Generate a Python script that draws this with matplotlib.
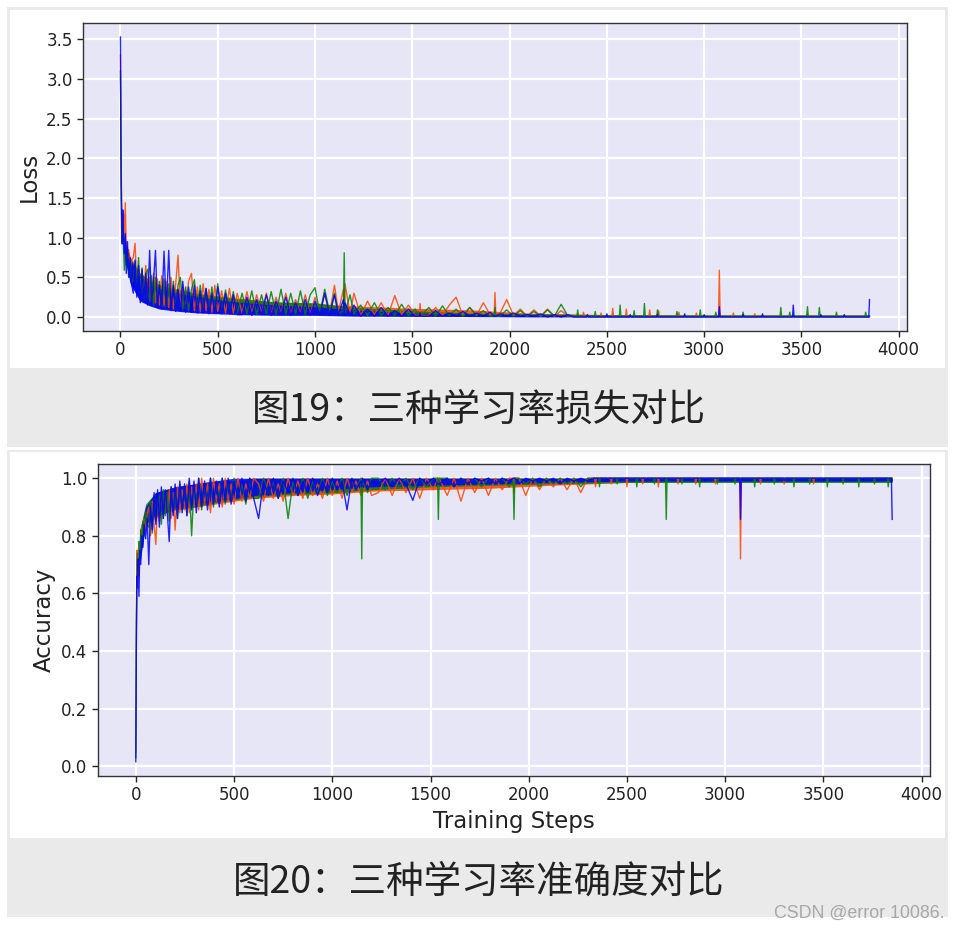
import matplotlib
matplotlib.use("Agg")
import matplotlib.pyplot as plt
from matplotlib.patches import Rectangle

# ---------------- data ----------------
# training steps shared by all six series up to step 2300
steps = [0, 3, 6, 9, 12, 16, 20, 25, 30, 36, 42, 50, 58,
         66, 75, 84, 93, 102, 111, 120, 130, 140, 150, 160, 170, 180, 190, 200, 212, 224, 236, 248, 260,
         272, 284, 296, 308, 320, 335, 350, 365, 380, 395, 410, 425, 440, 455, 470, 485, 500, 520, 540,
         560, 580, 600,
         625, 650, 675, 700, 725, 750, 775, 800, 825, 850, 875, 900, 925, 950, 975, 1000, 1025, 1050,
         1075, 1100, 1120, 1146, 1150, 1154, 1180, 1200,
         1235, 1270, 1305, 1340, 1375, 1410, 1445, 1480, 1515, 1536, 1540, 1544,
         1585, 1620, 1655, 1690, 1725, 1760, 1795, 1830, 1865, 1900, 1921, 1925, 1929,
         1950, 1985, 2020, 2055, 2090, 2125, 2160, 2195, 2230, 2265, 2300]

loss_orange = [3.30, 2.10, 1.45, 1.20, 1.05, 1.30, 0.95, 1.44, 0.80, 0.70, 0.85, 0.60, 0.72,
               0.75, 0.93, 0.40, 0.62, 0.30, 0.58, 0.25, 0.65, 0.22, 0.50,
               0.20, 0.55, 0.18, 0.48, 0.15, 0.52, 0.14, 0.45, 0.12, 0.50,
               0.10, 0.42, 0.78, 0.12, 0.40, 0.09, 0.45, 0.55, 0.08, 0.38,
               0.07, 0.42, 0.08, 0.35, 0.06, 0.40, 0.07, 0.33, 0.05, 0.36, 0.05, 0.30,
               0.05, 0.32, 0.04, 0.28, 0.05, 0.30, 0.03, 0.25, 0.04, 0.30,
               0.03, 0.22, 0.04, 0.28, 0.03, 0.25, 0.05, 0.30, 0.04, 0.40,
               0.06, 0.35, 0.05, 0.42, 0.04, 0.30,
               0.02, 0.20, 0.03, 0.18, 0.02, 0.27, 0.03, 0.15, 0.02, 0.02, 0.17, 0.02,
               0.02, 0.12, 0.02, 0.15, 0.25, 0.02, 0.12, 0.02, 0.18, 0.03, 0.03, 0.31, 0.04,
               0.04, 0.22, 0.02, 0.10, 0.01, 0.09, 0.01, 0.10, 0.01, 0.08, 0.01]

loss_green = [3.10, 2.00, 1.30, 0.95, 1.15, 0.85, 0.59, 0.90, 0.65, 0.80, 0.55, 0.70, 0.45,
              0.45, 0.70, 0.35, 0.75, 0.28, 0.62, 0.22, 0.55, 0.60, 0.20,
              0.52, 0.15, 0.50, 0.18, 0.45, 0.12, 0.48, 0.10, 0.42, 0.12,
              0.45, 0.09, 0.40, 0.50, 0.10, 0.38, 0.08, 0.35, 0.47, 0.07,
              0.40, 0.08, 0.36, 0.06, 0.38, 0.06, 0.42, 0.05, 0.34, 0.05, 0.32, 0.04,
              0.30, 0.04, 0.33, 0.03, 0.28, 0.04, 0.32, 0.03, 0.35, 0.03,
              0.30, 0.04, 0.33, 0.03, 0.28, 0.37, 0.04, 0.35, 0.05, 0.30,
              0.04, 0.08, 0.81, 0.05, 0.28, 0.04,
              0.15, 0.02, 0.18, 0.02, 0.12, 0.02, 0.16, 0.02, 0.10, 0.02, 0.02, 0.02,
              0.12, 0.01, 0.14, 0.02, 0.10, 0.01, 0.12, 0.02, 0.08, 0.01, 0.01, 0.12, 0.01,
              0.01, 0.09, 0.01, 0.08, 0.01, 0.07, 0.01, 0.09, 0.01, 0.16, 0.01]

loss_blue = [3.53, 1.72, 1.10, 0.92, 1.35, 1.00, 0.80, 1.05, 0.55, 0.95, 0.50, 0.75, 0.40,
             0.30, 0.72, 0.25, 0.65, 0.18, 0.60, 0.20, 0.55, 0.15, 0.84,
             0.18, 0.45, 0.84, 0.12, 0.40, 0.10, 0.83, 0.10, 0.84, 0.08,
             0.40, 0.07, 0.35, 0.08, 0.45, 0.06, 0.38, 0.06, 0.40, 0.05,
             0.33, 0.05, 0.36, 0.04, 0.30, 0.05, 0.38, 0.04, 0.30, 0.04, 0.28, 0.03,
             0.03, 0.25, 0.02, 0.22, 0.03, 0.28, 0.02, 0.20, 0.03, 0.25,
             0.02, 0.18, 0.03, 0.22, 0.02, 0.20, 0.03, 0.30, 0.02, 0.28,
             0.03, 0.22, 0.02, 0.18, 0.03, 0.15,
             0.01, 0.10, 0.01, 0.12, 0.01, 0.08, 0.01, 0.10, 0.01, 0.01, 0.06, 0.01,
             0.01, 0.08, 0.01, 0.05, 0.01, 0.07, 0.01, 0.05, 0.01, 0.06, 0.01, 0.01, 0.01,
             0.04, 0.01, 0.05, 0.01, 0.03, 0.01, 0.04, 0.00, 0.03, 0.00, 0.03]

# late part of each series: (step, value) pairs, mostly baseline with thin spikes
loss_orange_tail = [(2340, 0.01),
                    (2376, 0.01), (2380, 0.06), (2384, 0.01), (2466, 0.01), (2470, 0.05), (2474, 0.01),
                    (2526, 0.01), (2530, 0.11), (2534, 0.01), (2596, 0.01), (2600, 0.10), (2604, 0.01),
                    (2716, 0.01), (2720, 0.09), (2724, 0.01), (2762, 0.01), (2766, 0.08), (2770, 0.01),
                    (2866, 0.01), (2870, 0.06), (2874, 0.01), (2956, 0.01), (2960, 0.05), (2964, 0.01),
                    (3074, 0.01), (3078, 0.59), (3082, 0.01), (3146, 0.01), (3150, 0.05), (3154, 0.01),
                    (3256, 0.01), (3260, 0.04), (3264, 0.01), (3526, 0.01), (3530, 0.04), (3534, 0.01),
                    (3850, 0.01)]
loss_green_tail = [(2320, 0.01),
                   (2346, 0.01), (2350, 0.09), (2354, 0.01), (2436, 0.01), (2440, 0.07), (2444, 0.01),
                   (2564, 0.01), (2568, 0.15), (2572, 0.01), (2636, 0.01), (2640, 0.08), (2644, 0.01),
                   (2689, 0.01), (2693, 0.17), (2697, 0.01), (2756, 0.01), (2760, 0.09), (2764, 0.01),
                   (2856, 0.01), (2860, 0.07), (2864, 0.01), (2976, 0.01), (2980, 0.09), (2984, 0.01),
                   (3056, 0.01), (3060, 0.06), (3064, 0.01), (3196, 0.01), (3200, 0.06), (3204, 0.01),
                   (3390, 0.01), (3394, 0.12), (3398, 0.01), (3436, 0.01), (3440, 0.06), (3444, 0.01),
                   (3527, 0.01), (3531, 0.13), (3535, 0.01), (3588, 0.01), (3592, 0.12), (3596, 0.01),
                   (3676, 0.01), (3680, 0.06), (3684, 0.01), (3826, 0.01), (3830, 0.06), (3834, 0.01),
                   (3850, 0.01)]
loss_blue_tail = [(2330, 0.00),
                  (2396, 0.00), (2400, 0.03), (2404, 0.00), (2496, 0.00), (2500, 0.04), (2504, 0.00),
                  (2616, 0.00), (2620, 0.03), (2624, 0.00), (2756, 0.00), (2760, 0.03), (2764, 0.00),
                  (2896, 0.00), (2900, 0.04), (2904, 0.00), (2996, 0.00), (3000, 0.03), (3004, 0.00),
                  (3074, 0.00), (3078, 0.13), (3082, 0.00), (3196, 0.00), (3200, 0.03), (3204, 0.00),
                  (3296, 0.00), (3300, 0.04), (3304, 0.00), (3454, 0.00), (3458, 0.15), (3462, 0.00),
                  (3596, 0.00), (3600, 0.03), (3604, 0.00), (3716, 0.00), (3720, 0.03), (3724, 0.00),
                  (3846, 0.00), (3850, 0.22)]

acc_orange = [0.05, 0.55, 0.75, 0.68, 0.72, 0.66, 0.78, 0.74, 0.83, 0.80, 0.86, 0.82, 0.88,
              0.90, 0.80, 0.92, 0.84, 0.77, 0.93, 0.85, 0.95, 0.86, 0.94,
              0.88, 0.96, 0.86, 0.95, 0.82, 0.97, 0.88, 0.96, 0.89, 0.98,
              0.88, 0.97, 0.90, 0.98, 0.89, 1.00, 0.91, 0.98, 0.88, 1.00,
              0.92, 0.98, 0.90, 1.00, 0.92, 0.98, 0.91, 1.00, 0.92, 0.98, 0.93, 1.00,
              0.98, 0.92, 1.00, 0.93, 0.98, 0.92, 1.00, 0.94, 0.99, 0.93,
              1.00, 0.94, 0.98, 0.93, 1.00, 0.94, 0.99, 0.93, 1.00, 0.95,
              0.99, 0.94, 1.00, 0.95, 0.99, 0.94,
              0.95, 1.00, 0.94, 1.00, 0.95, 1.00, 0.93, 1.00, 0.96, 1.00, 1.00, 1.00,
              0.94, 1.00, 0.92, 1.00, 0.95, 1.00, 0.94, 1.00, 0.96, 1.00, 1.00, 0.95, 1.00,
              1.00, 0.94, 1.00, 0.96, 1.00, 0.97, 1.00, 0.96, 1.00, 0.95, 1.00]

acc_green = [0.03, 0.50, 0.70, 0.74, 0.69, 0.78, 0.72, 0.82, 0.77, 0.85, 0.80, 0.88, 0.84,
             0.83, 0.92, 0.81, 0.94, 0.85, 0.90, 0.94, 0.84, 0.96, 0.87,
             0.95, 0.85, 0.97, 0.88, 0.96, 0.86, 0.98, 0.89, 0.97, 0.87,
             0.99, 0.80, 0.97, 0.90, 1.00, 0.89, 0.98, 0.91, 1.00, 0.90,
             0.98, 0.92, 1.00, 0.91, 0.99, 0.92, 1.00, 0.93, 0.98, 0.91, 1.00, 0.93,
             0.93, 1.00, 0.94, 0.99, 0.93, 1.00, 0.86, 0.99, 0.94, 1.00,
             0.93, 0.99, 0.95, 1.00, 0.94, 0.99, 0.95, 1.00, 0.94, 0.99,
             0.96, 1.00, 0.72, 0.99, 0.95, 1.00,
             1.00, 0.96, 1.00, 0.97, 1.00, 0.96, 1.00, 0.97, 1.00, 1.00, 0.857, 1.00,
             1.00, 0.97, 1.00, 0.98, 1.00, 0.97, 1.00, 0.98, 1.00, 0.97, 0.99, 0.857, 1.00,
             1.00, 0.98, 1.00, 0.97, 1.00, 0.98, 1.00, 0.98, 1.00, 0.97, 1.00]

acc_blue = [0.016, 0.45, 0.66, 0.62, 0.72, 0.59, 0.75, 0.70, 0.80, 0.76, 0.84, 0.79, 0.86,
            0.70, 0.90, 0.82, 0.95, 0.84, 0.96, 0.83, 0.97, 0.86, 0.96,
            0.88, 0.78, 0.97, 0.87, 0.98, 0.86, 0.99, 0.88, 0.98, 0.87,
            1.00, 0.89, 0.99, 0.88, 1.00, 0.90, 0.99, 0.89, 1.00, 0.91,
            0.99, 0.90, 1.00, 0.92, 1.00, 0.91, 0.99, 0.93, 1.00, 0.92, 1.00, 0.93,
            0.86, 0.99, 0.94, 1.00, 0.93, 0.99, 0.95, 1.00, 0.94, 0.99,
            0.95, 1.00, 0.94, 0.99, 0.95, 1.00, 0.96, 0.99, 0.89, 1.00,
            0.96, 0.99, 0.97, 1.00, 0.96, 0.99,
            0.98, 1.00, 0.97, 1.00, 0.98, 0.923, 1.00, 0.98, 1.00, 0.98, 0.98, 0.98,
            1.00, 0.97, 1.00, 0.98, 1.00, 0.99, 1.00, 0.98, 1.00, 0.99, 1.00, 1.00, 1.00,
            0.98, 1.00, 0.99, 1.00, 0.99, 1.00, 0.98, 1.00, 0.99, 1.00, 0.99]

acc_orange_tail = [(2320, 1.00),
                   (2336, 1.00), (2340, 0.97), (2344, 1.00), (2416, 1.00), (2420, 0.98), (2424, 1.00),
                   (2496, 1.00), (2500, 0.97), (2504, 1.00), (2576, 1.00), (2580, 0.98), (2584, 1.00),
                   (2656, 1.00), (2660, 0.97), (2664, 1.00), (2756, 1.00), (2760, 0.98), (2764, 1.00),
                   (2846, 1.00), (2850, 0.98), (2854, 1.00), (2946, 1.00), (2950, 0.98), (2954, 1.00),
                   (3074, 1.00), (3078, 0.72), (3082, 1.00), (3176, 1.00), (3180, 0.98), (3184, 1.00),
                   (3296, 1.00), (3300, 0.98), (3304, 1.00), (3446, 1.00), (3450, 0.98), (3454, 1.00),
                   (3850, 1.00)]
acc_green_tail = [(2310, 1.00),
                  (2356, 1.00), (2360, 0.97), (2364, 1.00), (2446, 1.00), (2450, 0.98), (2454, 1.00),
                  (2546, 1.00), (2550, 0.97), (2554, 1.00), (2636, 1.00), (2640, 0.98), (2644, 1.00),
                  (2696, 1.00), (2700, 0.857), (2704, 1.00), (2776, 1.00), (2780, 0.98), (2784, 1.00),
                  (2866, 1.00), (2870, 0.97), (2874, 1.00), (2956, 1.00), (2960, 0.98), (2964, 1.00),
                  (3046, 1.00), (3050, 0.98), (3054, 1.00), (3146, 1.00), (3150, 0.97), (3154, 1.00),
                  (3246, 1.00), (3250, 0.98), (3254, 1.00), (3346, 1.00), (3350, 0.97), (3354, 1.00),
                  (3426, 1.00), (3430, 0.98), (3434, 1.00), (3516, 1.00), (3520, 0.97), (3524, 1.00),
                  (3596, 1.00), (3600, 0.98), (3604, 1.00), (3676, 1.00), (3680, 0.97), (3684, 1.00),
                  (3756, 1.00), (3760, 0.98), (3764, 1.00), (3826, 1.00), (3830, 0.97), (3834, 1.00),
                  (3850, 1.00)]
acc_blue_tail = [(2330, 1.00),
                 (2396, 1.00), (2400, 0.99), (2404, 1.00), (2596, 1.00), (2600, 0.99), (2604, 1.00),
                 (2896, 1.00), (2900, 0.99), (2904, 1.00), (3074, 1.00), (3078, 0.857), (3082, 1.00),
                 (3296, 1.00), (3300, 0.99), (3304, 1.00), (3496, 1.00), (3500, 0.99), (3504, 1.00),
                 (3696, 1.00), (3700, 0.99), (3704, 1.00), (3846, 1.00), (3850, 0.857)]

# dense core of the noise band of each series (low / high edge)
band_steps = [20, 50, 100, 150, 200, 300, 400, 500, 600, 800, 1000, 1200, 1500, 1800, 2100, 2500,
              3000, 3500, 3850]
loss_orange_lo = [0.80, 0.44, 0.21, 0.15, 0.11, 0.08, 0.06, 0.05, 0.04, 0.03, 0.03, 0.02, 0.01,
                  0.01, 0.01, 0.005, 0.005, 0.005, 0.005]
loss_orange_hi = [1.00, 0.76, 0.56, 0.47, 0.41, 0.35, 0.30, 0.27, 0.24, 0.19, 0.17, 0.14, 0.11,
                  0.09, 0.05, 0.03, 0.02, 0.02, 0.02]
loss_green_lo = [0.75, 0.44, 0.22, 0.15, 0.11, 0.08, 0.06, 0.05, 0.04, 0.03, 0.03, 0.02, 0.01,
                 0.01, 0.01, 0.005, 0.005, 0.005, 0.005]
loss_green_hi = [1.00, 0.74, 0.55, 0.46, 0.40, 0.33, 0.29, 0.26, 0.23, 0.19, 0.18, 0.12, 0.08,
                 0.05, 0.04, 0.03, 0.025, 0.025, 0.025]
loss_blue_lo = [0.80, 0.42, 0.20, 0.14, 0.10, 0.07, 0.05, 0.04, 0.03, 0.02, 0.02, 0.01, 0.01,
                0.005, 0.0, 0.0, 0.0, 0.0, 0.0]
loss_blue_hi = [1.05, 0.72, 0.52, 0.42, 0.36, 0.30, 0.26, 0.22, 0.19, 0.15, 0.13, 0.09, 0.05,
                0.035, 0.025, 0.02, 0.015, 0.015, 0.015]
acc_orange_lo = [0.72, 0.84, 0.86, 0.88, 0.89, 0.90, 0.91, 0.92, 0.93, 0.94, 0.945, 0.955, 0.96,
                 0.965, 0.975, 0.985, 0.99, 0.99, 0.99]
acc_orange_hi = [0.82, 0.90, 0.94, 0.96, 0.97, 0.98, 0.99, 0.99, 1.00, 1.00, 1.00, 1.00, 1.00,
                 1.00, 1.00, 1.00, 1.00, 1.00, 1.00]
acc_green_lo = [0.72, 0.85, 0.87, 0.88, 0.89, 0.90, 0.915, 0.925, 0.935, 0.945, 0.95, 0.96, 0.97,
                0.975, 0.98, 0.985, 0.985, 0.985, 0.985]
acc_green_hi = [0.82, 0.91, 0.95, 0.96, 0.97, 0.98, 0.99, 0.99, 1.00, 1.00, 1.00, 1.00, 1.00,
                1.00, 1.00, 1.00, 1.00, 1.00, 1.00]
acc_blue_lo = [0.70, 0.84, 0.87, 0.88, 0.895, 0.91, 0.92, 0.93, 0.94, 0.95, 0.96, 0.97, 0.975,
               0.98, 0.985, 0.99, 0.99, 0.99, 0.99]
acc_blue_hi = [0.80, 0.90, 0.95, 0.96, 0.97, 0.98, 0.99, 1.00, 1.00, 1.00, 1.00, 1.00, 1.00,
               1.00, 1.00, 1.00, 1.00, 1.00, 1.00]

series_colors = ["orangered", "green", "blue"]
loss_ticks = [0.0, 0.5, 1.0, 1.5, 2.0, 2.5, 3.0, 3.5]
acc_ticks = [0.0, 0.2, 0.4, 0.6, 0.8, 1.0]
x_ticks = [0, 500, 1000, 1500, 2000, 2500, 3000, 3500, 4000]
caption_top = "图19：三种学习率损失对比"
caption_bottom = "图20：三种学习率准确度对比"
watermark = "CSDN @error 10086."


def full_series(head, tail):
    xs = list(steps) + [p[0] for p in tail]
    ys = list(head) + [p[1] for p in tail]
    return xs, ys


# ---------------- figure ----------------
W, H = 958, 930
fig = plt.figure(figsize=(W / 100, H / 100), dpi=100)
fig.patch.set_facecolor("white")


def px_rect(x0, y0, x1, y1, color, z):
    r = Rectangle((x0 / W, 1 - y1 / H), (x1 - x0) / W, (y1 - y0) / H,
                  transform=fig.transFigure, facecolor=color, edgecolor="none", zorder=z)
    fig.add_artist(r)


grey = "#EAEAEA"
px_rect(7, 7, 948, 917, grey, -10)          # document frame / caption bands
px_rect(10, 10, 945, 368, "white", -9)      # top chart panel
px_rect(7, 447, 948, 450, "white", -9)      # separator line
px_rect(10, 452, 945, 838, "white", -9)     # bottom chart panel


def style_axes(ax):
    ax.set_facecolor("#E6E6F7")
    ax.grid(True, color="white", linewidth=1.6)
    ax.set_axisbelow(True)
    for s in ax.spines.values():
        s.set_color("#333333")
        s.set_linewidth(1.0)
    ax.tick_params(axis="both", labelsize=12, colors="#222222", length=4, width=1)
    ax.set_xticks(x_ticks)


def draw(ax, heads, tails, bands):
    # each run: its dense band, then its line; later runs are drawn on top
    for head, tail, (lo, hi), c in zip(heads, tails, bands, series_colors):
        ax.fill_between(band_steps, lo, hi, color=c, alpha=0.85, linewidth=0)
        xs, ys = full_series(head, tail)
        ax.plot(xs, ys, color=c, linewidth=1.0, alpha=0.85)


# Loss chart
ax1 = fig.add_axes([83 / W, 1 - 331 / H, (907 - 83) / W, (331 - 23) / H])
draw(ax1, [loss_orange, loss_green, loss_blue],
     [loss_orange_tail, loss_green_tail, loss_blue_tail],
     [(loss_orange_lo, loss_orange_hi), (loss_green_lo, loss_green_hi), (loss_blue_lo, loss_blue_hi)])
style_axes(ax1)
ax1.set_yticks(loss_ticks)
ax1.set_ylabel("Loss", fontsize=16.5, color="#222222")

# Accuracy chart
ax2 = fig.add_axes([98 / W, 1 - 776 / H, (930 - 98) / W, (776 - 464) / H])
draw(ax2, [acc_orange, acc_green, acc_blue],
     [acc_orange_tail, acc_green_tail, acc_blue_tail],
     [(acc_orange_lo, acc_orange_hi), (acc_green_lo, acc_green_hi), (acc_blue_lo, acc_blue_hi)])
style_axes(ax2)
ax2.set_yticks(acc_ticks)
ax2.set_ylabel("Accuracy", fontsize=16.5, color="#222222")
ax2.set_xlabel("Training Steps", fontsize=16.5, color="#222222")

cjk = ["Noto Sans CJK SC", "DejaVu Sans"]
fig.text(479 / W, 1 - 410 / H, caption_top, fontsize=27, family=cjk, color="#222222",
         ha="center", va="center")
fig.text(479 / W, 1 - 882 / H, caption_bottom, fontsize=27, family=cjk, color="#222222",
         ha="center", va="center")
fig.text(945 / W, 1 - 913 / H, watermark, fontsize=12.8, family=["Liberation Sans", "DejaVu Sans"],
         color="#A8A8A8", ha="right", va="center")

fig.savefig("out.png", dpi=100)
